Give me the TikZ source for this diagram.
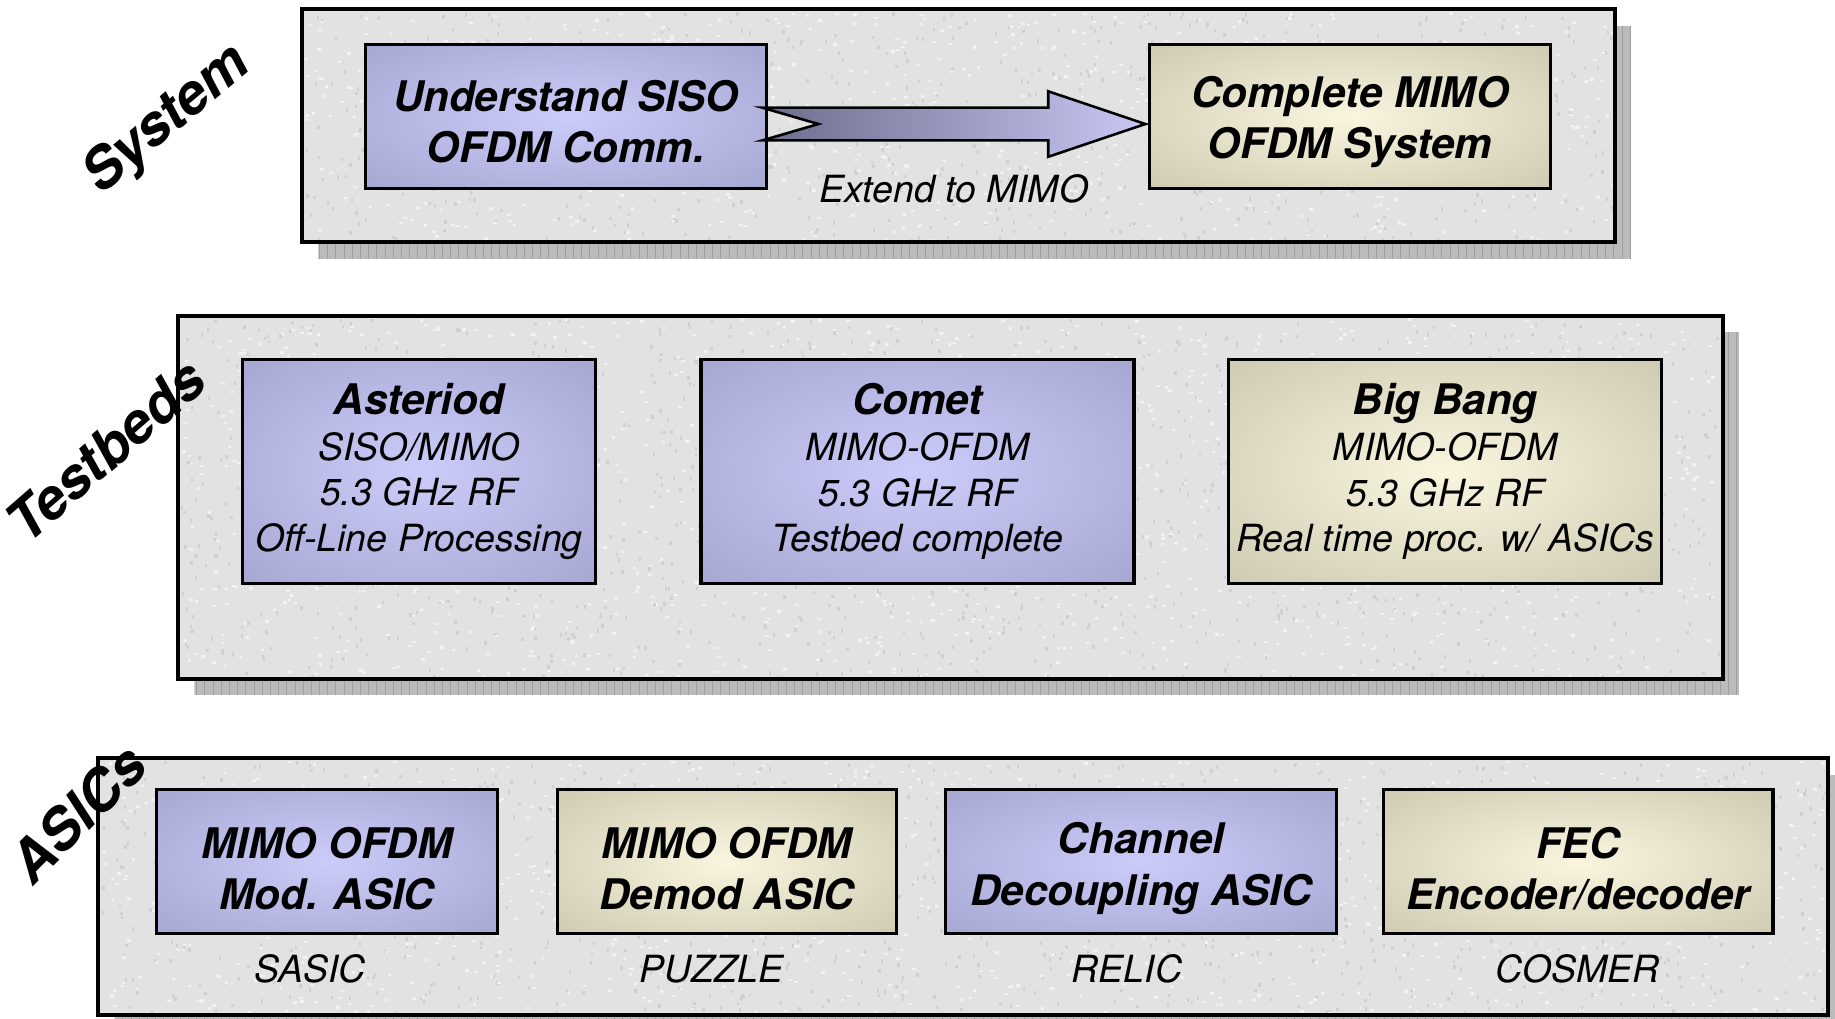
\documentclass[tikz,border=0pt]{standalone}
\usepackage{fontspec}
\setmainfont{TeX Gyre Heros}
\usetikzlibrary{calc,fit}

\definecolor{panelgray}{HTML}{E2E2E2}
\definecolor{specklight}{HTML}{F2F2F2}
\definecolor{speckdark}{HTML}{D0D0D0}
\definecolor{shadowgray}{HTML}{BBBBBB}
\definecolor{shadowline}{HTML}{9E9E9E}
\definecolor{arrowdark}{HTML}{6C6C8C}
\definecolor{arrowlight}{HTML}{C8C8F4}

% soft glow fills for the stage boxes
\pgfdeclareradialshading{lavenderglow}{\pgfpoint{0bp}{0bp}}{rgb(0bp)=(0.80,0.80,0.98); rgb(46bp)=(0.61,0.61,0.78); rgb(100bp)=(0.61,0.61,0.78)}
\pgfdeclareradialshading{sandglow}{\pgfpoint{0bp}{0bp}}{rgb(0bp)=(0.98,0.96,0.87); rgb(46bp)=(0.76,0.745,0.65); rgb(100bp)=(0.76,0.745,0.65)}

% extra room above the first line, to set two-line titles a little low
\newcommand\toppad[1]{\rule{0pt}{#1}}

\tikzset{
  panel/.style={draw=black, line width=1.6pt, fill=panelgray, inner sep=0pt},
  stagebox/.style={draw=black, line width=1.3pt, inner sep=0pt, align=center},
  lavender/.style={stagebox, shading=lavenderglow},
  sand/.style={stagebox, shading=sandglow},
  % box sizes, given in half points (the picture's unit)
  wide/.style={minimum width=171.5pt, minimum height=61.5pt},
  tall/.style={minimum width=#1, minimum height=95.5pt},
  asicbox/.style={minimum width=#1, minimum height=61.5pt},
  headline/.style={font=\fontsize{18}{22}\selectfont\bfseries\itshape},
  detail/.style={font=\fontsize{16}{19.5}\selectfont\itshape},
  sidelabel/.style={font=\fontsize{24}{28}\selectfont\bfseries\itshape, inner sep=0pt},
  caption/.style={font=\fontsize{16}{19}\selectfont\itshape, inner sep=0pt},
  bigarrow/.style={draw=black, line width=1.1pt, left color=arrowdark, right color=arrowlight, line join=miter},
}

% gridded drop shadow behind a panel given by two corner coordinates
\newcommand\dropshadow[2]{%
  \begin{scope}
    \clip ($(#1)+(14,14)$) rectangle ($(#2)+(14,14)$);
    \fill[shadowgray] ($(#1)+(14,14)$) rectangle ($(#2)+(14,14)$);
    \draw[shadowline, line width=0.35pt, step=7] ($(#1)+(14,14)$) grid ($(#2)+(14,14)$);
  \end{scope}}

% stone-like mottling on a panel: x0, y0, x1, y1, specks per tone
\newcommand\mottle[5]{%
  \begin{scope}
    \clip (#1,#2) rectangle (#3,#4);
    \foreach \k in {1,...,#5}{%
      \pgfmathsetmacro\gx{#1+rnd*(#3-#1)}%
      \pgfmathsetmacro\gy{#2+rnd*(#4-#2)}%
      \pgfmathsetmacro\hx{#1+rnd*(#3-#1)}%
      \pgfmathsetmacro\hy{#2+rnd*(#4-#2)}%
      \fill[specklight] (\gx,\gy) rectangle +(3,2);
      \fill[speckdark] (\hx,\hy) rectangle +(2,3);
    }
  \end{scope}}

\begin{document}
\begin{tikzpicture}[x=0.5pt, y=-0.5pt]
  \pgfmathsetseed{1729}
  \useasboundingbox (0,0) rectangle (1568,870);
  \fill[white] (0,0) rectangle (1568,870);

  % panel corners
  \coordinate (sysA) at (258,8);    \coordinate (sysB) at (1380,207);
  \coordinate (tbA)  at (152,270);  \coordinate (tbB)  at (1472,580);
  \coordinate (asA)  at (84,648);   \coordinate (asB)  at (1562,867);

  \dropshadow{sysA}{sysB}
  \dropshadow{tbA}{tbB}
  \dropshadow{asA}{asB}

  \node[panel, fit=(sysA)(sysB)] (syspanel) {};
  \node[panel, fit=(tbA)(tbB)] (tbpanel) {};
  \node[panel, fit=(asA)(asB)] (aspanel) {};

  \mottle{260}{10}{1378}{205}{700}
  \mottle{154}{272}{1470}{578}{1300}
  \mottle{86}{650}{1560}{865}{1000}

  % System row
  \node[lavender, headline, wide] (siso) at (483.5,99.5) {\toppad{18pt}Understand SISO\\OFDM Comm.};
  \node[sand, headline, wide] (cmimo) at (1153.5,99.5) {\toppad{18pt}Complete MIMO\\OFDM System};

  \coordinate (tailref) at ($(siso.east)+(-5,6.5)$);
  \coordinate (tipref) at ($(cmimo.west)+(-2,6.5)$);
  \draw[bigarrow] ($(tailref)+(0,-14)$) -- ($(tailref)+(48,0)$) -- ($(tailref)+(0,14)$)
    -- ($(tipref)+(-83,14)$) -- ($(tipref)+(-83,28)$) -- (tipref)
    -- ($(tipref)+(-83,-28)$) -- ($(tipref)+(-83,-14)$) -- cycle;
  \node[caption] (extend) at (815,161) {Extend to MIMO};

  % Testbeds row
  \node[lavender, detail, tall=151pt] (asteriod) at (358,403)
    {{\fontsize{18}{19.5}\selectfont\bfseries Asteriod}\\SISO/MIMO\\5.3 GHz RF\\Off-Line Processing};
  \node[lavender, detail, tall=185pt] (comet) at (784,403)
    {{\fontsize{18}{19.5}\selectfont\bfseries Comet}\\MIMO-OFDM\\5.3 GHz RF\\Testbed complete};
  \node[sand, detail, tall=185pt] (bigbang) at (1235,403)
    {{\fontsize{18}{19.5}\selectfont\bfseries Big Bang}\\MIMO-OFDM\\5.3 GHz RF\\Real time proc. w/ ASICs};

  % ASICs row
  \node[lavender, headline, asicbox=145.5pt] (modasic) at (279.5,736.5) {\toppad{19pt}MIMO OFDM\\Mod. ASIC};
  \node[sand, headline, asicbox=145pt] (demodasic) at (621,736.5) {\toppad{19pt}MIMO OFDM\\Demod ASIC};
  \node[lavender, headline, asicbox=167pt] (chanasic) at (975,736.5) {\toppad{19pt}Channel\\Decoupling ASIC};
  \node[sand, headline, asicbox=166.5pt] (fecasic) at (1348.5,736.5) {\toppad{19pt}FEC\\Encoder/decoder};

  \node[caption] (sasic)  at (265,828)  {SASIC};
  \node[caption] (puzzle) at (608,828)  {PUZZLE};
  \node[caption] (relic)  at (963,828)  {RELIC};
  \node[caption] (cosmer) at (1348,828) {COSMER};

  % row titles
  \node[sidelabel, rotate=40] (lsystem) at (143,103) {System};
  \node[sidelabel, rotate=41] (ltestbeds) at (90,385) {Testbeds};
  \node[sidelabel, rotate=45] (lasics) at (66,695) {ASICs};
\end{tikzpicture}
\end{document}
